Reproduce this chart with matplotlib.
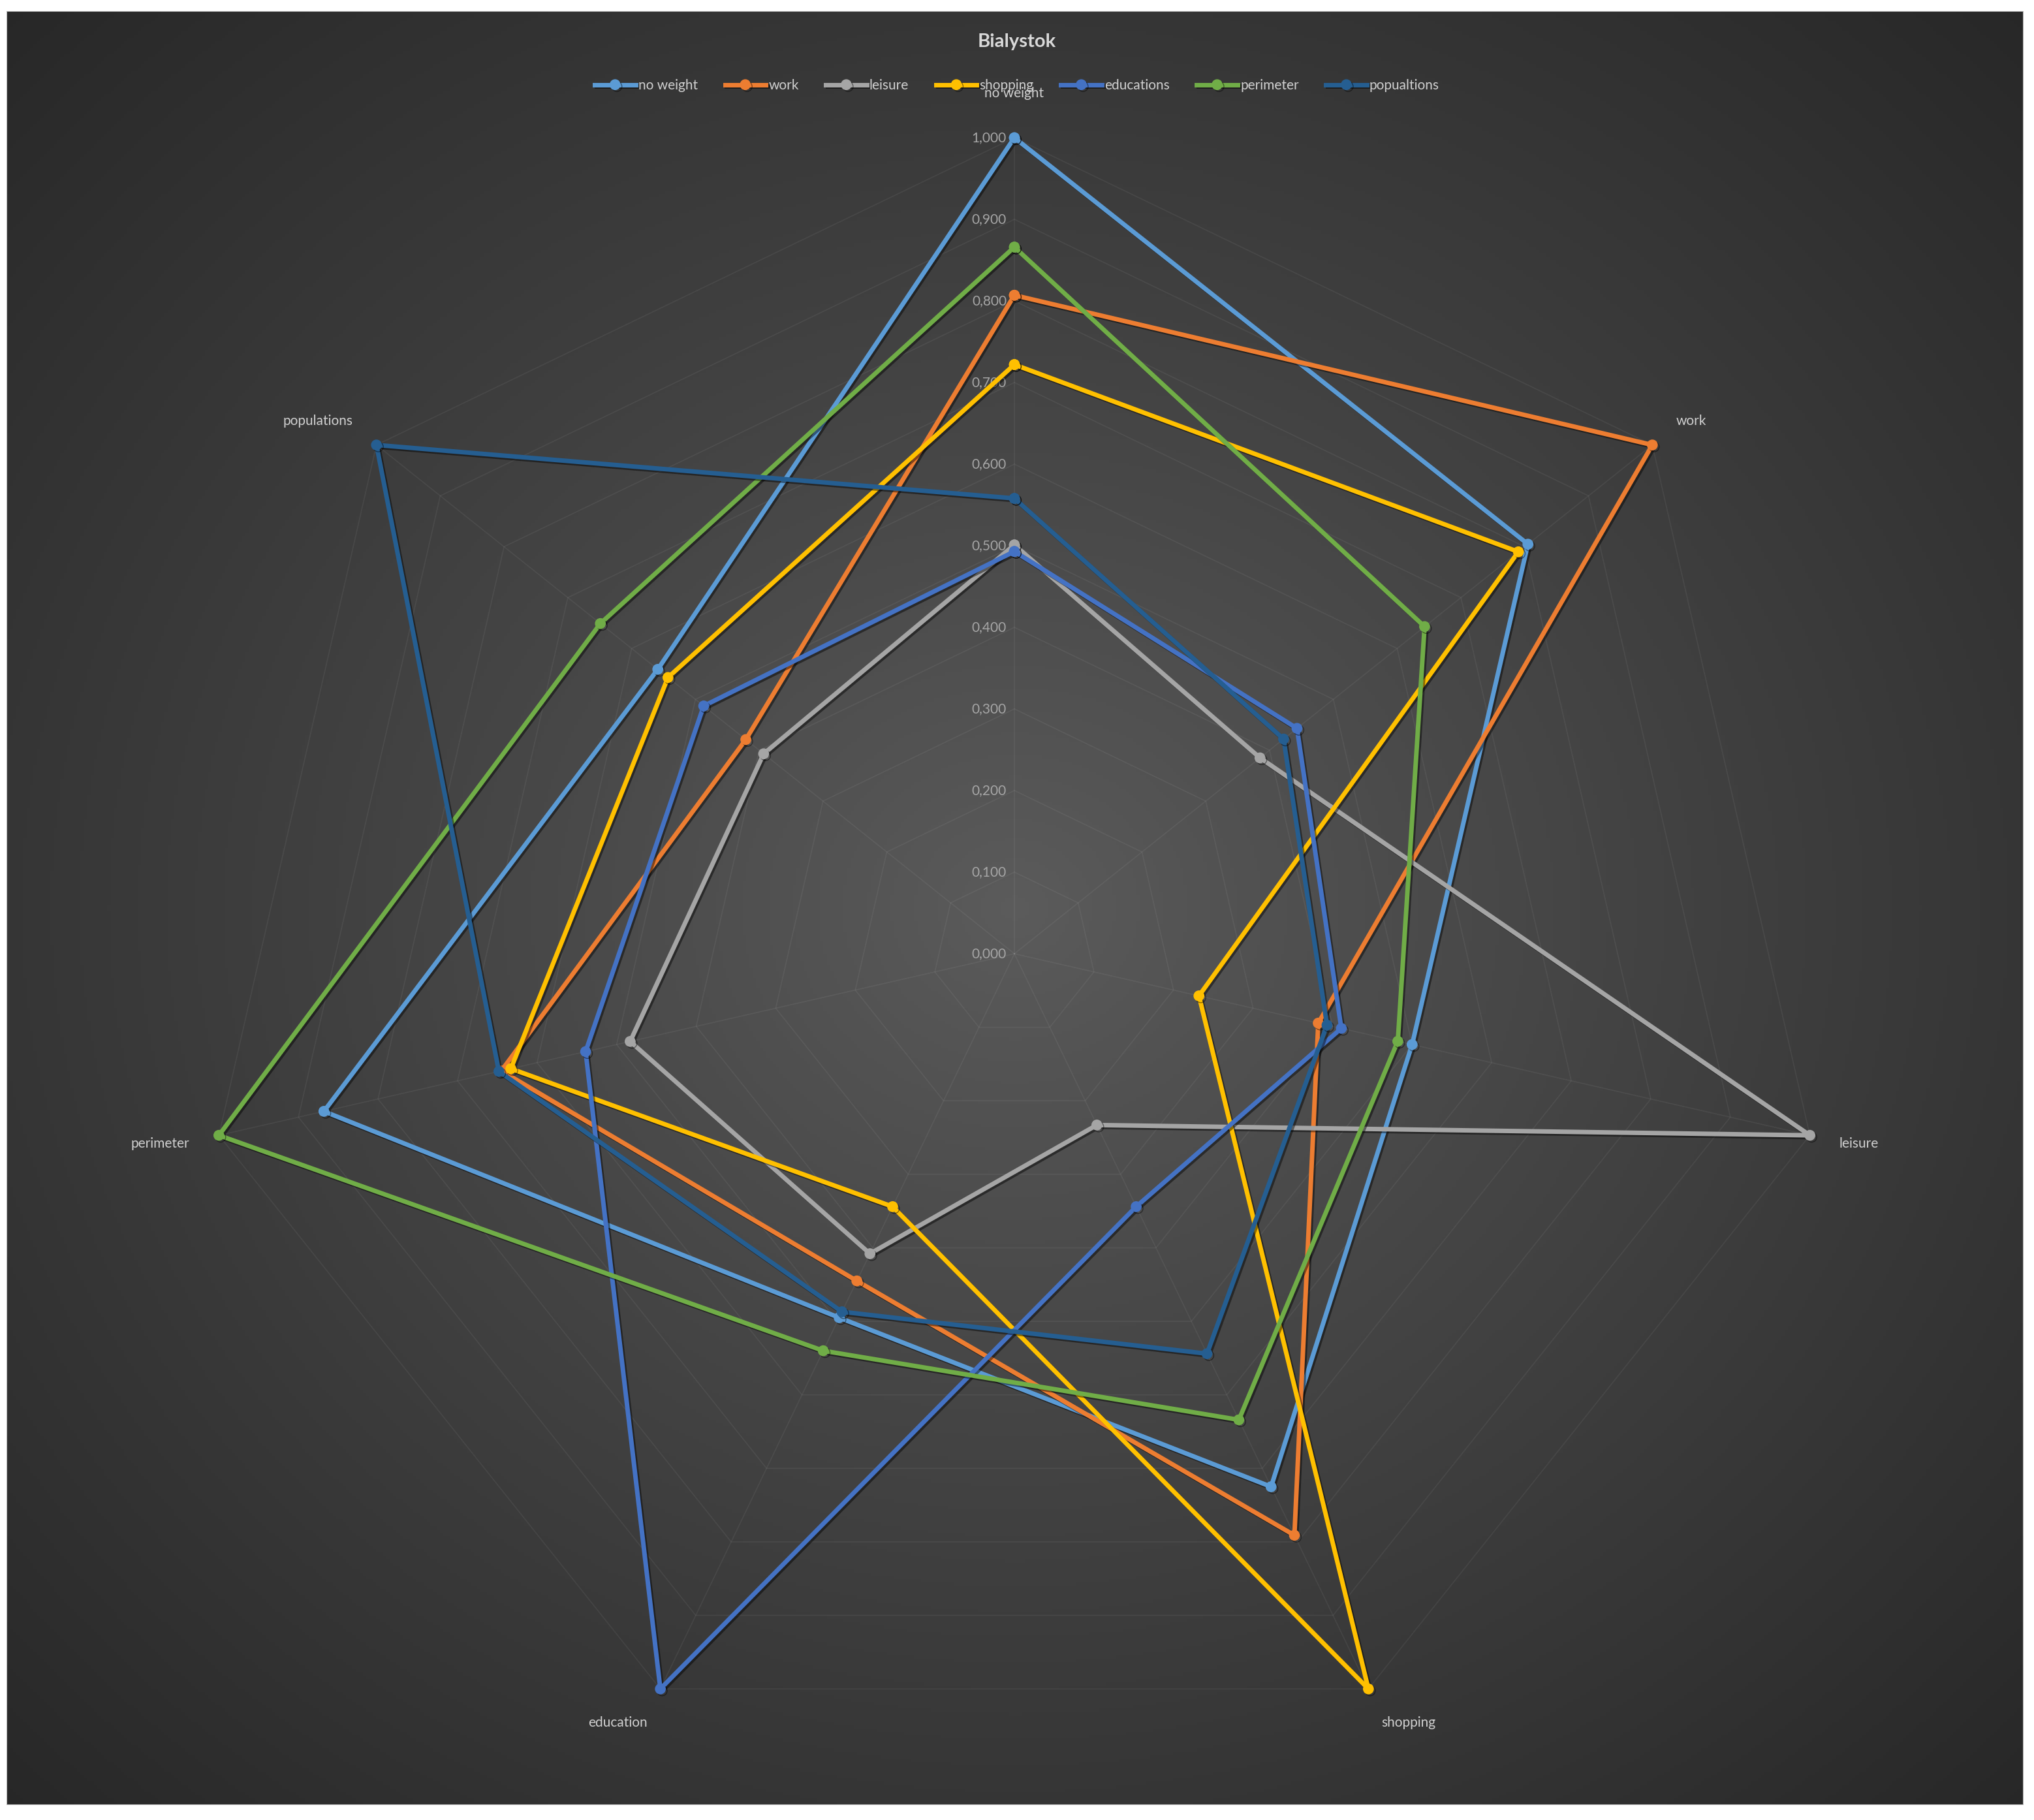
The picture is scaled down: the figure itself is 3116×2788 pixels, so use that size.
import numpy as np
import matplotlib
matplotlib.use("Agg")
import matplotlib.pyplot as plt
import matplotlib.patheffects as pe
from matplotlib.patches import Rectangle

plt.rcParams['font.family'] = ['Lato', 'DejaVu Sans']

# ---------------------------------------------------------------- data
categories = ['no weight', 'work', 'leisure', 'shopping', 'education', 'perimeter', 'populations']
series_names = ['no weight', 'work', 'leisure', 'shopping', 'educations', 'perimeter', 'popualtions']

no_weight = [1.000, 0.805, 0.500, 0.725, 0.495, 0.868, 0.559]
work = [0.807, 1.000, 0.382, 0.791, 0.445, 0.645, 0.421]
leisure = [0.501, 0.385, 1.000, 0.233, 0.408, 0.483, 0.393]
shopping = [0.722, 0.790, 0.232, 1.000, 0.344, 0.633, 0.543]
educations = [0.493, 0.443, 0.411, 0.344, 1.000, 0.539, 0.487]
perimeter = [0.866, 0.643, 0.482, 0.634, 0.540, 1.000, 0.649]
popualtions = [0.558, 0.422, 0.393, 0.544, 0.487, 0.648, 1.000]

series_values = [no_weight, work, leisure, shopping, educations, perimeter, popualtions]
colors = ['#5B9BD5', '#ED7D31', '#A5A5A5', '#FFC000', '#4472C4', '#70AD47', '#255E91']

ticks = np.round(np.arange(0, 1.0001, 0.1), 1)

# ---------------------------------------------------------------- figure
W, H = 3116, 2788
fig = plt.figure(figsize=(W / 100, H / 100), dpi=100, facecolor='white')

# chart area with radial gradient
x0, y0, x1, y1 = 10, 17, 3100, 2765
bg = fig.add_axes([x0 / W, 1 - y1 / H, (x1 - x0) / W, (y1 - y0) / H])
gx, gy = np.meshgrid(np.linspace(-1, 1, 600), np.linspace(-1, 1, 540))
rr = np.clip(np.sqrt(gx ** 2 + gy ** 2) / np.sqrt(2), 0, 1)
c_in, c_out = 0.36, 0.155
grad = c_in + (c_out - c_in) * rr ** 0.9
bg.imshow(np.dstack([grad, grad, grad]), aspect='auto', extent=[0, 1, 0, 1])
bg.add_patch(Rectangle((0, 0), 1, 1, transform=bg.transAxes, fill=False,
                       edgecolor='#b0b0b0', lw=1.5))
bg.axis('off')

# radar axes
cx, cy, R = 1554, 1461, 1250
ax = fig.add_axes([(cx - R) / W, 1 - (cy + R) / H, 2 * R / W, 2 * R / H], polar=True)
ax.set_theta_zero_location('N')
ax.set_theta_direction(-1)
ax.set_ylim(0, 1)
ax.axis('off')

n = len(categories)
angles = np.linspace(0, 2 * np.pi, n, endpoint=False)
closed = np.concatenate([angles, angles[:1]])

# polygon gridlines and spokes
for t in ticks[1:]:
    ax.plot(closed, [t] * (n + 1), color='white', alpha=0.06, lw=1.2, zorder=1, clip_on=False)
for a in angles:
    ax.plot([a, a], [0, 1], color='white', alpha=0.06, lw=1.2, zorder=1, clip_on=False)

# value labels along the top spoke
for t in ticks:
    ax.annotate(f"{t:.3f}".replace('.', ','), xy=(0, t), xytext=(-12, 0),
                textcoords='offset pixels', ha='right', va='center',
                color='#a6a6a6', fontsize=15, zorder=2)

# category labels, offset outward from the end of each spoke (pixels)
for a, lab in zip(angles, categories):
    s, c = np.sin(a), np.cos(a)
    ha = 'center' if abs(s) < 0.1 else ('left' if s > 0 else 'right')
    dx = 46 * s
    dy = 68 if c > 0.99 else 58 * c
    ax.annotate(lab, xy=(a, 1.0), xytext=(dx, dy), textcoords='offset pixels',
                ha=ha, va='center', color='#d0d0d0', fontsize=15)

# series
shadow = [pe.SimpleLineShadow(offset=(2, -2), shadow_color='black', alpha=0.45), pe.Normal()]
handles = []
for name, vals, col in zip(series_names, series_values, colors):
    v = np.concatenate([vals, vals[:1]])
    line, = ax.plot(closed, v, color=col, lw=5, marker='o', markersize=11,
                    label=name, zorder=3, path_effects=shadow, clip_on=False)
    handles.append(line)

fig.legend(handles=handles, loc='center', bbox_to_anchor=(0.5, 1 - 131 / H),
           ncol=7, frameon=False, fontsize=15, labelcolor='#d0d0d0',
           handlelength=3.0, handletextpad=0.2, columnspacing=2.0)

fig.text(0.5, 1 - 64 / H, 'Bialystok', ha='center', va='center',
         color='#d9d9d9', fontsize=21, fontweight='bold')

fig.savefig('out.png', dpi=100, facecolor='white')
